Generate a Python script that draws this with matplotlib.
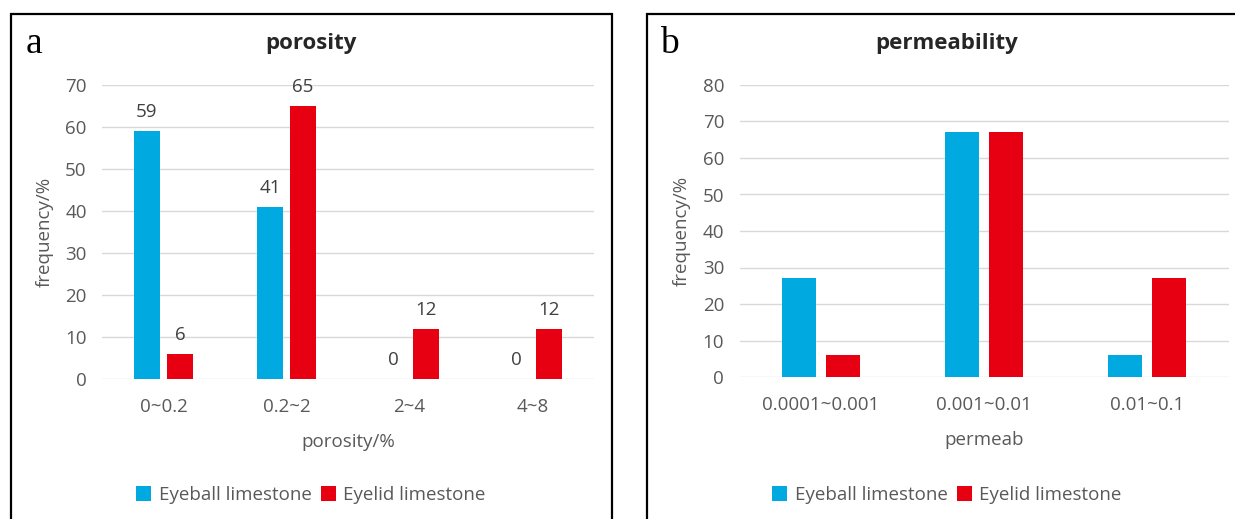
import matplotlib.pyplot as plt
from matplotlib.patches import Rectangle
import numpy as np

# porosity classes (%) and frequency (%) of each limestone type
por_classes = ["0~0.2", "0.2~2", "2~4", "4~8"]
por_eyeball = [59, 41, 0, 0]
por_eyelid = [6, 65, 12, 12]

# permeability classes and frequency (%)
perm_classes = ["0.0001~0.001", "0.001~0.01", "0.01~0.1"]
perm_eyeball = [27, 67, 6]
perm_eyelid = [6, 67, 27]

series_names = ["Eyeball limestone", "Eyelid limestone"]
blue = "#00A9E0"
red = "#E60012"
grey = "#595959"
grid_c = "#D9D9D9"

plt.rcParams['font.family'] = ['Open Sans', 'DejaVu Sans']

W, H = 1235, 519
fig = plt.figure(figsize=(W / 100, H / 100), dpi=100)


def px_axes(x0, x1, ytop, ybot):
    return fig.add_axes([x0 / W, (H - ybot) / H, (x1 - x0) / W, (ybot - ytop) / H])


def panel_box(x0, x1, ytop, ybot):
    fig.patches.append(Rectangle((x0 / W, (H - ybot) / H), (x1 - x0) / W, (ybot - ytop) / H,
                                 transform=fig.transFigure, fill=False, ec="black", lw=1.6))


def bar_panel(ax, cats, s1, s2, ymax, title, xlabel, letter, labels, cx, letter_x, ylab_x):
    x = np.arange(len(cats))
    w = 0.213
    g = 0.057
    b1 = ax.bar(x - (w + g) / 2, s1, w, color=blue, label=series_names[0], zorder=3)
    b2 = ax.bar(x + (w + g) / 2, s2, w, color=red, label=series_names[1], zorder=3)
    if labels:
        for bars in (b1, b2):
            ax.bar_label(bars, padding=7, color="#404040", fontsize=13.5)
    ax.set_xlim(-0.5, len(cats) - 0.5)
    ax.set_ylim(0, ymax)
    ax.set_yticks(np.arange(0, ymax + 1, 10))
    ax.set_xticks(x)
    ax.set_xticklabels(cats)
    ax.tick_params(length=0, labelsize=13.5, colors=grey, pad=11)
    ax.tick_params(axis="x", pad=14)
    ax.grid(axis="y", color=grid_c, lw=1, zorder=0)
    for s in ax.spines.values():
        s.set_visible(False)
    ax.set_facecolor("none")
    ax.set_xlabel(xlabel, color=grey, fontsize=13.5, labelpad=12)
    ax.set_ylabel("frequency/%", color=grey, fontsize=13.5)
    ax.yaxis.set_label_coords(ylab_x / W, 0.5, transform=fig.transFigure)
    ax.yaxis.label.set_va("center")
    fig.text(cx / W, 1 - 44 / H, title, ha="center", va="center", fontsize=16,
             fontweight="bold", color="#262626")
    fig.text(letter_x / W, 1 - 44 / H, letter, ha="left", va="center", fontsize=27,
             family="Liberation Serif", color="black")
    ax.legend(loc="center", bbox_to_anchor=(cx / W, 1 - 495 / H), bbox_transform=fig.transFigure,
              ncol=2, frameon=False, fontsize=13.5, labelcolor=grey, handlelength=0.8,
              handleheight=0.8, handletextpad=0.4, columnspacing=0.5)


panel_box(10.5, 612, 14, 530)
panel_box(647, 1245, 14, 530)

ax1 = px_axes(102, 594, 85, 379)
bar_panel(ax1, por_classes, por_eyeball, por_eyelid, 70, "porosity", "porosity/%", "a",
          True, 311, 26, 45)
ax1.yaxis.set_label_coords(45 / W, (H - 232) / H, transform=fig.transFigure)

ax2 = px_axes(739.5, 1228.5, 85, 377)
bar_panel(ax2, perm_classes, perm_eyeball, perm_eyelid, 80, "permeability", "permeab", "b",
          False, 947, 660, 682)
ax2.yaxis.set_label_coords(682 / W, (H - 231) / H, transform=fig.transFigure)

fig.savefig("out.png", dpi=100)
